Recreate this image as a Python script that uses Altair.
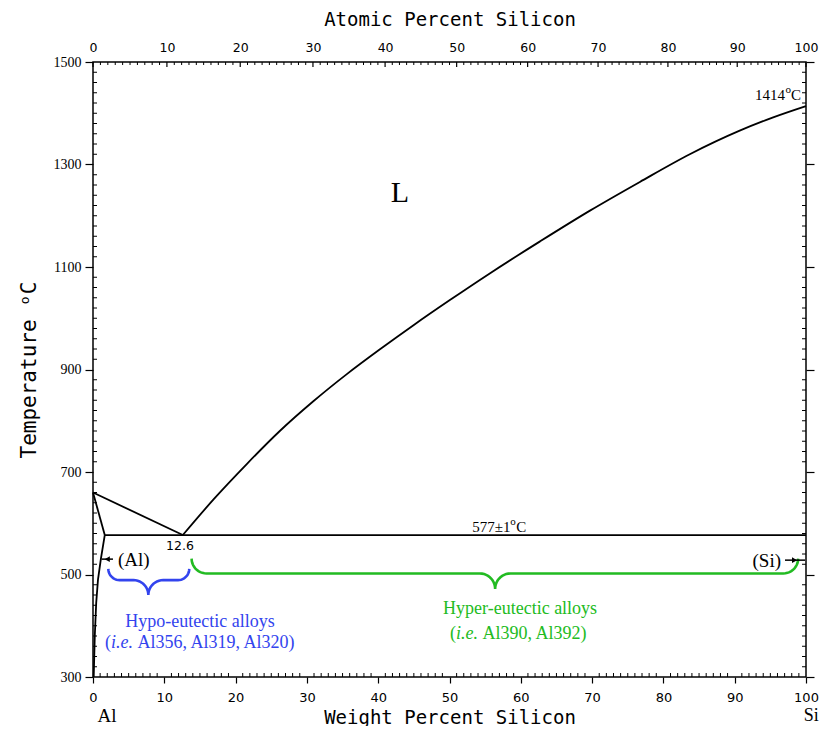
import altair as alt
import numpy as np
import pandas as pd

W, H = 713, 615
X_DOM = [0, 100]
Y_DOM = [300, 1500]

# ---- phase boundaries (weight % Si, temperature °C) ----
liq_al_x = [0.0, 12.6]
liq_al_t = [660, 577]
sol_al_x = [0.0, 1.65]
sol_al_t = [660, 577]
solv_al_x = [1.65, 1.1, 0.7, 0.45, 0.25, 0.1]
solv_al_t = [577, 530, 490, 445, 380, 300]
eut_x = [1.65, 100.0]
eut_t = [577, 577]
liq_si_x = [12.6, 17.0, 21.6, 26.2, 30.9, 35.6, 40.3, 45.0, 50.0, 55.7, 62.7,
            69.7, 76.7, 83.7, 90.7, 95.4, 100.0]
liq_si_t = [577, 648, 716, 780, 838, 891, 940, 987, 1035, 1088, 1150,
            1210, 1266, 1320, 1366, 1392, 1414]

# ---- ticks ----
wt_major = list(range(0, 101, 10))
wt_minor = [v for v in range(0, 101) if v % 10]
t_major = list(range(300, 1501, 200))
t_minor = [v for v in range(300, 1501, 20) if (v - 300) % 200]
at_major = list(range(0, 101, 10))
at_minor = [v for v in range(0, 101) if v % 10]
M_AL, M_SI = 26.9815, 28.0855

# ---- braces (x start, x end, x tip, T top, T mid, T tip) ----
blue_brace = [2.15, 13.5, 7.76, 511, 489, 460]
green_brace = [13.83, 98.9, 56.4, 531, 502, 472]

# ---- arrows ----
al_arrow_x = [1.2, 2.8]
al_arrow_t = 530
al_head_x = 2.0
si_arrow_x = [97.05, 99.86]
si_arrow_t = 528
si_head_x = 98.4

BLUE = "#3344ee"
GREEN = "#22bb22"


def at_to_wt(a):
    a = np.asarray(a, dtype=float)
    return 100 * a * M_SI / (a * M_SI + (100 - a) * M_AL)


xs = alt.Scale(domain=X_DOM, nice=False, zero=False)
ys = alt.Scale(domain=Y_DOM, nice=False, zero=False)


def X(field, axis=None):
    if axis is None:
        return alt.X(field, type="quantitative", scale=xs, axis=None)
    return alt.X(field, type="quantitative", scale=xs, axis=axis)


def Y(field, axis=None):
    if axis is None:
        return alt.Y(field, type="quantitative", scale=ys, axis=None)
    return alt.Y(field, type="quantitative", scale=ys, axis=axis)


bottom_axis = alt.Axis(orient="bottom", values=wt_major, tickSize=6, tickWidth=1.2,
                       tickColor="black", labelFont="DejaVu Sans", labelFontSize=13,
                       labelColor="black", labelPadding=8, labelFlush=False,
                       labelOverlap=False, domain=False, grid=False, format="d",
                       title="Weight Percent Silicon", titleFont="DejaVu Sans Mono",
                       titleFontSize=19, titleFontWeight="normal", titleColor="black",
                       titlePadding=4)
left_axis = alt.Axis(orient="left", values=t_major, tickSize=8, tickWidth=1.2,
                     tickColor="black", labelFont="Liberation Serif", labelFontSize=14,
                     labelColor="black", labelPadding=4, labelOverlap=False,
                     domain=False, grid=False, format="d",
                     title="Temperature ᵒC", titleFont="DejaVu Sans Mono",
                     titleFontSize=21, titleFontWeight="normal", titleColor="black",
                     titlePadding=14)
top_pos = [float(v) for v in at_to_wt(at_major)]
top_axis = alt.Axis(orient="top", values=top_pos, tickSize=0, labelFont="DejaVu Sans",
                    labelFontSize=12.5, labelColor="black", labelPadding=8,
                    labelFlush=False, labelOverlap=False, domain=False, grid=False,
                    labelExpr="format(100*(datum.value/28.0855)/(datum.value/28.0855+(100-datum.value)/26.9815), '.0f')",
                    title="Atomic Percent Silicon", titleFont="DejaVu Sans Mono",
                    titleFontSize=19, titleFontWeight="normal", titleColor="black",
                    titlePadding=12)
right_axis = alt.Axis(orient="right", values=t_major, tickSize=8, tickWidth=1.2,
                      tickColor="black", labels=False, domain=False, grid=False, title="")

# ---- line data ----
def seg(name, xs_, ts_):
    return pd.DataFrame({"x": xs_, "t": ts_, "seg": name, "i": range(len(xs_))})

straight = pd.concat([seg("liq_al", liq_al_x, liq_al_t), seg("sol_al", sol_al_x, sol_al_t),
                      seg("solv_al", solv_al_x, solv_al_t), seg("eut", eut_x, eut_t)])
curve = seg("liq_si", liq_si_x, liq_si_t)

main = alt.Chart(straight).mark_line(color="black", strokeWidth=1.8).encode(
    x=X("x", bottom_axis), y=Y("t", left_axis), detail="seg:N", order="i:Q")
liq = alt.Chart(curve).mark_line(color="black", strokeWidth=1.8, interpolate="monotone").encode(
    x=X("x"), y=Y("t"), order="i:Q")

# ---- ticks layers ----
top_major = alt.Chart(pd.DataFrame({"pos": top_pos})).mark_rule(color="black", strokeWidth=1.2).encode(
    x=X("pos", top_axis), y=alt.value(0), y2=alt.value(5))
top_minor = alt.Chart(pd.DataFrame({"pos": at_to_wt(at_minor)})).mark_rule(color="black", strokeWidth=1).encode(
    x=X("pos"), y=alt.value(0), y2=alt.value(3))
bot_minor = alt.Chart(pd.DataFrame({"v": wt_minor})).mark_rule(color="black", strokeWidth=1).encode(
    x=X("v"), y=alt.value(H), y2=alt.value(H - 4))
left_minor = alt.Chart(pd.DataFrame({"v": t_minor})).mark_rule(color="black", strokeWidth=1).encode(
    y=Y("v"), x=alt.value(0), x2=alt.value(4))
right_minor = alt.Chart(pd.DataFrame({"v": t_minor})).mark_rule(color="black", strokeWidth=1).encode(
    y=Y("v", right_axis), x=alt.value(W), x2=alt.value(W - 4))

# ---- braces ----
def brace_df(b):
    x0, x1, xc, tt, tm, tp = b
    ppx, ppy = W / 100, H / 1200
    rye = tt - tm
    rxe = rye * ppy / ppx
    ryt = tm - tp
    rxt = ryt * ppy / ppx
    th = np.linspace(0, np.pi / 2, 12)
    px, pt = [], []
    px += list(x0 + rxe - rxe * np.cos(th)); pt += list(tt - rye * np.sin(th))
    px += list(xc - rxt + rxt * np.sin(th)); pt += list(tp + ryt * np.cos(th))
    th2 = th[::-1]
    px += list(xc + rxt - rxt * np.sin(th2)); pt += list(tp + ryt * np.cos(th2))
    px += list(x1 - rxe + rxe * np.cos(th2)); pt += list(tt - rye * np.sin(th2))
    return pd.DataFrame({"x": px, "t": pt, "i": range(len(px))})

blue_b = alt.Chart(brace_df(blue_brace)).mark_line(color=BLUE, strokeWidth=2.6).encode(
    x=X("x"), y=Y("t"), order="i:Q")
green_b = alt.Chart(brace_df(green_brace)).mark_line(color=GREEN, strokeWidth=2.6).encode(
    x=X("x"), y=Y("t"), order="i:Q")

# ---- arrows ----
arrows = alt.Chart(pd.DataFrame({"x": [al_arrow_x[0], si_arrow_x[0]], "x2": [al_arrow_x[1], si_arrow_x[1]],
                                 "t": [al_arrow_t, si_arrow_t]})).mark_rule(color="black", strokeWidth=1.5).encode(
    x=X("x"), x2="x2", y=Y("t"))
heads = alt.Chart(pd.DataFrame({"x": [al_head_x, si_head_x], "t": [al_arrow_t, si_arrow_t],
                                "s": ["triangle-left", "triangle-right"]})).mark_point(
    filled=True, color="black", size=35, opacity=1).encode(
    x=X("x"), y=Y("t"), shape=alt.Shape("s:N", scale=None))

# ---- text ----
def txt(x, t, s, **kw):
    return alt.Chart(pd.DataFrame({"x": [x], "t": [t], "s": [s]})).mark_text(
        baseline="middle", **kw).encode(x=X("x"), y=Y("t"), text="s:N")

serif = "Liberation Serif"
texts = [
    txt(43.06, 1244, "L", font=serif, fontSize=30, color="black"),
    # 1414 °C (superscript o)
    txt(99.3, 1436, "C", font=serif, fontSize=15, align="right", color="black"),
    txt(99.3, 1436, "o", font=serif, fontSize=11, align="right", dx=-10, dy=-5, color="black"),
    txt(99.3, 1436, "1414", font=serif, fontSize=15, align="right", dx=-16, color="black"),
    # 577±1 °C
    txt(53.2, 593, "577±1", font=serif, fontSize=15, align="left", color="black"),
    txt(53.2, 593, "o", font=serif, fontSize=11, align="left", dx=38, dy=-5, color="black"),
    txt(53.2, 593, "C", font=serif, fontSize=15, align="left", dx=44, color="black"),
    txt(12.2, 556, "12.6", font="DejaVu Sans", fontSize=12.5, color="black"),
    txt(3.5, 528, "(Al)", font=serif, fontSize=19, align="left", color="black"),
    txt(96.5, 526, "(Si)", font=serif, fontSize=19, align="right", color="black"),
    txt(1.96, 224, "Al", font=serif, fontSize=19, color="black"),
    txt(100.75, 224, "Si", font=serif, fontSize=18, color="black"),
    txt(15.0, 408, "Hypo-eutectic alloys", font=serif, fontSize=18, color=BLUE),
    txt(5.61, 366, "(", font=serif, fontSize=18, align="right", dx=-22, color=BLUE),
    txt(5.61, 366, "i.e.", font=serif, fontSize=18, fontStyle="italic", align="right", color=BLUE),
    txt(5.61, 366, "Al356, Al319, Al320)", font=serif, fontSize=18, align="left", dx=4.5, color=BLUE),
    txt(59.9, 433, "Hyper-eutectic alloys", font=serif, fontSize=18, color=GREEN),
    txt(54.0, 384, "(", font=serif, fontSize=18, align="right", dx=-22, color=GREEN),
    txt(54.0, 384, "i.e.", font=serif, fontSize=18, fontStyle="italic", align="right", color=GREEN),
    txt(54.0, 384, "Al390, Al392)", font=serif, fontSize=18, align="left", dx=4.5, color=GREEN),
]

chart = alt.layer(main, liq, top_major, top_minor, bot_minor, left_minor, right_minor,
                  blue_b, green_b, arrows, heads, *texts).resolve_axis(
    x="independent", y="independent").properties(
    width=W, height=H, autosize=alt.AutoSizeParams(type="none"),
    padding={"left": 85, "top": 54, "right": 13, "bottom": 49},
    background="white").configure_view(stroke="black", strokeWidth=1.5)

chart.save("out.html", embed_options={"renderer": "svg", "actions": False})
